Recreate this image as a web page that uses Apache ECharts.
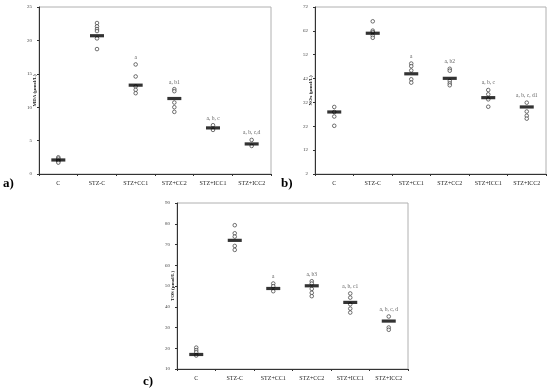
<!DOCTYPE html>
<html>
<head>
<meta charset="utf-8">
<script src="https://cdn.jsdelivr.net/npm/echarts@6/dist/echarts.min.js"></script>
<style>
html,body{margin:0;padding:0;background:#fff;}
#chart{width:550px;height:391px;}
</style>
</head>
<body>
<div id="chart"></div>
<script>
// ---- data ----
const categories = ['C', 'STZ-C', 'STZ+CC1', 'STZ+CC2', 'STZ+ICC1', 'STZ+ICC2'];

const mdaMeans = [2.1, 20.7, 13.3, 11.3, 6.9, 4.5];
const mdaPoints = [
  [2.5, 2.3, 2.0, 1.9, 1.7],
  [22.6, 22.1, 21.7, 21.4, 20.3, 18.7],
  [16.4, 14.6, 13.1, 12.6, 12.1],
  [12.7, 12.4, 10.7, 10.0, 9.3],
  [7.3, 6.6],
  [5.1, 4.2]
];
const mdaLetters = ['', '', 'a', 'a, b1', 'a, b, c', 'a, b, c,d'];
const mdaTicks = [0, 25, 5];

const noxMeans = [28.0, 61.0, 44.0, 42.1, 34.0, 30.1];
const noxPoints = [
  [30.1, 28.0, 26.1, 22.2],
  [66.0, 62.1, 61.5, 60.0, 59.1],
  [48.3, 47.2, 45.4, 41.7, 40.3],
  [46.1, 45.3, 41.0, 40.0, 39.2],
  [37.2, 35.4, 33.3, 30.2],
  [31.9, 28.2, 26.4, 25.2]
];
const noxLetters = ['', '', 'a', 'a, b2', 'a, b, c', 'a, b, c, d1'];
const noxTicks = [2, 72, 10];

const tosMeans = [17.0, 72.0, 48.8, 50.1, 42.1, 33.1];
const tosPoints = [
  [20.3, 19.1, 18.1, 16.5],
  [79.3, 75.4, 73.8, 69.3, 67.4],
  [51.2, 49.9, 47.5],
  [52.3, 51.2, 48.6, 46.7, 45.1],
  [46.4, 44.4, 41.2, 39.1, 37.2],
  [35.3, 30.0, 28.9]
];
const tosLetters = ['', '', 'a', 'a, b3', 'a, b, c1', 'a, b, c, d'];
const tosTicks = [10, 90, 10];

const axisNames = ['MDA (µmol/L)', 'NOx (µmol/L)', 'TOS (µmol/L)'];
const panelLabels = ['a)', 'b)', 'c)'];

// ---- build ----
const FONT = '"Liberation Serif", "Times New Roman", serif';
const panels = [
  {means: mdaMeans, points: mdaPoints, letters: mdaLetters, ticks: mdaTicks,
   grid: {left: 39, top: 7, right: 279, bottom: 217}},
  {means: noxMeans, points: noxPoints, letters: noxLetters, ticks: noxTicks,
   grid: {left: 315, top: 7, right: 4, bottom: 217}},
  {means: tosMeans, points: tosPoints, letters: tosLetters, ticks: tosTicks,
   grid: {left: 177, top: 203, right: 142, bottom: 22}}
];

const grid = [], xAxis = [], yAxis = [], series = [];
panels.forEach((p, i) => {
  grid.push(Object.assign({show: true, borderColor: '#b0b0b0', borderWidth: 1, backgroundColor: 'transparent'}, p.grid));
  xAxis.push({
    type: 'category', gridIndex: i, data: categories,
    axisLine: {lineStyle: {color: '#333', width: 1}},
    axisTick: {show: true, length: 2, lineStyle: {color: '#333'}},
    axisLabel: {fontFamily: FONT, fontSize: 6, color: '#222', margin: 6, interval: 0},
    splitLine: {show: false}
  });
  yAxis.push({
    type: 'value', gridIndex: i, min: p.ticks[0], max: p.ticks[1], interval: p.ticks[2],
    name: axisNames[i], nameLocation: 'middle', nameGap: 2, nameMoveOverlap: false,
    nameTextStyle: {fontFamily: FONT, fontSize: 5, fontWeight: 'bold', color: '#222', padding: [0, 0, 0, 0]},
    axisLine: {show: true, lineStyle: {color: '#333', width: 1}},
    axisTick: {show: true, length: 2, lineStyle: {color: '#333'}},
    axisLabel: {fontFamily: FONT, fontSize: 5, color: '#444', margin: 7},
    splitLine: {show: false}
  });
  const pts = [];
  p.points.forEach((arr, c) => arr.forEach(v => pts.push([c, v])));
  series.push({
    type: 'scatter', xAxisIndex: i, yAxisIndex: i, data: pts,
    symbol: 'circle', symbolSize: 3.6,
    itemStyle: {color: '#fff', borderColor: '#222', borderWidth: 0.8},
    z: 3, silent: true
  });
  series.push({
    type: 'scatter', xAxisIndex: i, yAxisIndex: i,
    data: p.means.map((v, c) => [c, v]),
    symbol: 'rect', symbolSize: [14, 3.2],
    itemStyle: {color: '#000'}, z: 4, silent: true
  });
  series.push({
    type: 'scatter', xAxisIndex: i, yAxisIndex: i,
    data: p.points.map((arr, c) => ({value: [c, Math.max(...arr)], letter: p.letters[c]})),
    symbolSize: 0,
    label: {show: true, position: 'top', distance: 4,
      formatter: d => d.data.letter,
      fontFamily: FONT, fontSize: 5.5, color: '#333'},
    z: 5, silent: true
  });
});

const chart = echarts.init(document.getElementById('chart'), null, {renderer: 'canvas'});
chart.setOption({
  animation: false,
  backgroundColor: '#fff',
  grid, xAxis, yAxis, series,
  graphic: [
    {type: 'text', left: 3, top: 177, style: {text: panelLabels[0], font: 'bold 13px ' + FONT, fill: '#000'}},
    {type: 'text', left: 281, top: 177, style: {text: panelLabels[1], font: 'bold 13px ' + FONT, fill: '#000'}},
    {type: 'text', left: 143, top: 375, style: {text: panelLabels[2], font: 'bold 13px ' + FONT, fill: '#000'}}
  ]
});
</script>
</body>
</html>
